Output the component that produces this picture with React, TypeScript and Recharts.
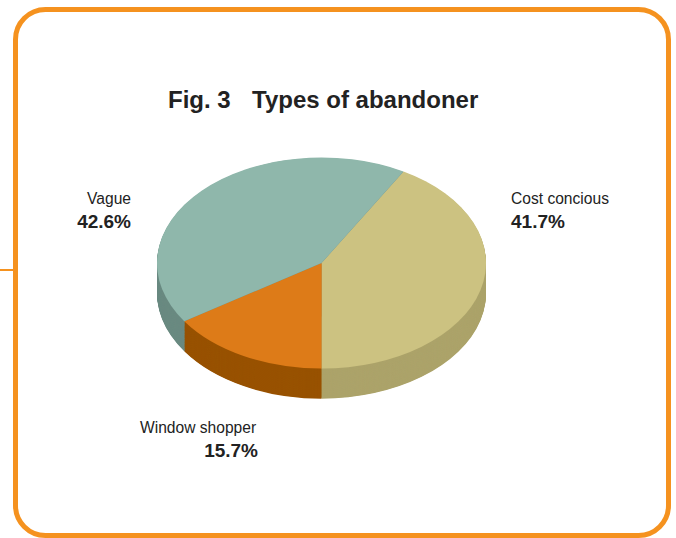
import { PieChart, Pie, Cell } from "recharts";

const categories = ["Cost concious", "Window shopper", "Vague"];
const shares = [41.7, 15.7, 42.6];
const shareLabels = ["41.7%", "15.7%", "42.6%"];

const TOP_COLORS = ["#CCC281", "#DD7B18", "#8FB7AB"];
const SIDE_COLORS = ["#ACA36A", "#985200", "#6A8A80"];
const FRAME = "#F5921F";
const FONT = "'Liberation Sans', Arial, Helvetica, sans-serif";

// pie squashed vertically to fake the 3D tilt
const SQUASH = 0.6413;
const DEPTH = 47; // px before squash
const CX = 180.5;
const CY = 170;
const R = 164.5;
const START = 60.1;

const data = categories.map((name, i) => ({ name, value: shares[i] }));
const layers = Array.from({ length: DEPTH }, (_, i) => DEPTH - i);

export default function App() {
  return (
    <div style={{ position: "absolute", left: 0, top: 0, width: 676, height: 538, background: "#fff", overflow: "hidden" }}>
      <div style={{ position: "absolute", left: 141, top: 153.5, transform: `scaleY(${SQUASH})`, transformOrigin: "0 0" }}>
        <PieChart width={362} height={420} margin={{ top: 0, right: 0, bottom: 0, left: 0 }}>
          {layers.map((d) => (
            <Pie
              key={`side-${d}`}
              data={data}
              dataKey="value"
              cx={CX}
              cy={CY + d}
              outerRadius={R}
              startAngle={START}
              endAngle={START - 360}
              stroke="none"
              isAnimationActive={false}
            >
              {data.map((_, i) => (
                <Cell key={i} fill={SIDE_COLORS[i]} />
              ))}
            </Pie>
          ))}
          <Pie
            data={data}
            dataKey="value"
            cx={CX}
            cy={CY}
            outerRadius={R}
            startAngle={START}
            endAngle={START - 360}
            stroke="none"
            isAnimationActive={false}
          >
            {data.map((_, i) => (
              <Cell key={i} fill={TOP_COLORS[i]} />
            ))}
          </Pie>
        </PieChart>
      </div>

      <svg width={676} height={538} style={{ position: "absolute", left: 0, top: 0 }} fontFamily={FONT}>
        <rect x={15.5} y={9.5} width={653} height={526} rx={30} fill="none" stroke={FRAME} strokeWidth={5} />
        <line x1={0} y1={270} x2={14} y2={270} stroke={FRAME} strokeWidth={2} />

        <text x={168} y={108} fontSize={24} fontWeight="bold" fill="#222">Fig. 3</text>
        <text x={252} y={108} fontSize={24} fontWeight="bold" fill="#222">Types of abandoner</text>

        <text x={131} y={204} fontSize={15.6} fill="#222" textAnchor="end">{categories[2]}</text>
        <text x={131} y={228} fontSize={19} fontWeight="bold" fill="#222" textAnchor="end">{shareLabels[2]}</text>

        <text x={511} y={204} fontSize={15.6} fill="#222">{categories[0]}</text>
        <text x={511} y={228} fontSize={19} fontWeight="bold" fill="#222">{shareLabels[0]}</text>

        <text x={140} y={433} fontSize={15.6} fill="#222">{categories[1]}</text>
        <text x={258} y={457} fontSize={19} fontWeight="bold" fill="#222" textAnchor="end">{shareLabels[1]}</text>
      </svg>
    </div>
  );
}
